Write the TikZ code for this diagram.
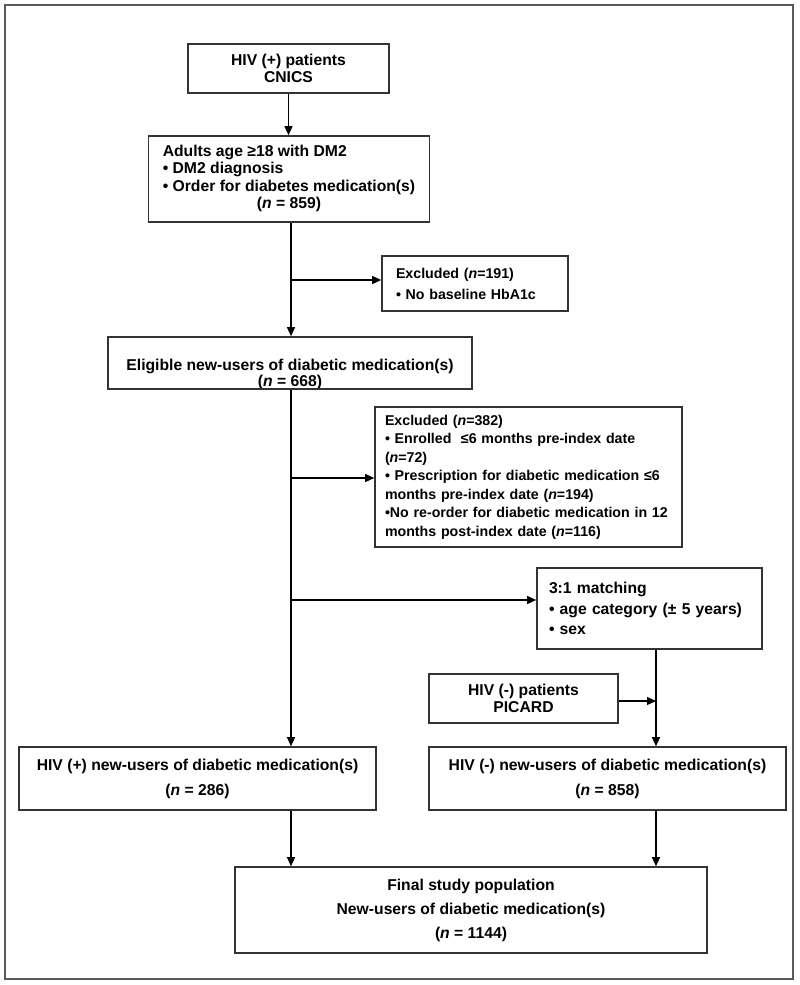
\documentclass[tikz,border=0pt]{standalone}
\usepackage{fontspec}
\setmainfont{Liberation Sans}
\usetikzlibrary{arrows.meta}
\definecolor{boxc}{HTML}{333333}
\definecolor{framec}{HTML}{5A5A5A}
\begin{document}
\begin{tikzpicture}[x=1pt,y=-1pt,
  box/.style={draw=boxc, line width=1.6pt, inner sep=0pt},
  fa/.style={font=\bfseries\fontsize{15.7}{#1}\selectfont},
  fb/.style={font=\bfseries\fontsize{14.2}{#1}\selectfont},
  arr/.style={draw=black, line width=1.2pt, -{Triangle[length=9pt,width=8pt]}}]
\useasboundingbox (0,0) rectangle (800,985);
\draw[framec, line width=1.5pt] (5,5) rectangle (793,979);

\node[box, fa=17, align=center, minimum width=201pt, minimum height=49pt] (b1) at (288.5,68.5) {HIV (+) patients\\CNICS};

\node[box, fa=17.6, minimum width=281pt, minimum height=86pt] (b2) at (289,179)
  {\begin{tabular}{@{}l@{}}Adults age ≥18 with DM2\\ • DM2 diagnosis\\ • Order for diabetes medication(s)\\ \multicolumn{1}{@{}c@{}}{(\textit{n} = 859)}\end{tabular}};

\node[box, fb=21, align=left, minimum width=186pt, minimum height=55pt, text width=158pt, inner xsep=14pt] (ex1) at (475,283.5)
  {Excluded (\textit{n}=191)\\• No baseline HbA1c};

\node[fa=16.5, align=center, inner sep=0pt] (b3t) at (290,374.5) {Eligible new-users of diabetic medication(s)\\(\textit{n} = 668)};
\node[box, minimum width=364pt, minimum height=52pt] (b3) at (290,363) {};

\node[box, fb=18.5, align=left, minimum width=307pt, minimum height=140pt, text width=287pt, inner xsep=10pt] (ex2) at (528.5,477)
  {Excluded (\textit{n}=382)\\• Enrolled~~≤6 months pre-index date\\(\textit{n}=72)\\• Prescription for diabetic medication ≤6\\months pre-index date (\textit{n}=194)\\•No re-order for diabetic medication in 12\\months post-index date (\textit{n}=116)};

\node[box, fa=20.5, align=left, minimum width=225pt, minimum height=81pt, text width=201pt, inner xsep=12pt] (match) at (649.5,608.5)
  {3:1 matching\\• age category (± 5 years)\\• sex};

\node[box, fa=17, align=center, minimum width=189pt, minimum height=49pt] (picard) at (523.5,698.5) {HIV (-) patients\\PICARD};

\node[box, fa=25, align=center, minimum width=357pt, minimum height=63pt] (hivp) at (197.5,778.5) {HIV (+) new-users of diabetic medication(s)\\(\textit{n} = 286)};
\node[box, fa=25, align=center, minimum width=357pt, minimum height=63pt] (hivm) at (607.5,778.5) {HIV (-) new-users of diabetic medication(s)\\(\textit{n} = 858)};

\node[box, fa=24, align=center, minimum width=472pt, minimum height=86pt] (final) at (471,910) {Final study population\\New-users of diabetic medication(s)\\(\textit{n} = 1144)};

\coordinate (spine) at (291,0);
\coordinate (mx) at (656,0);
\coordinate (j1) at (291,280);
\coordinate (j2) at (291,478);
\coordinate (j3) at (291,600);
\coordinate (j4) at (656,701);

\draw[arr] (b1.south) -- (b1.south |- b2.north);
\draw[arr] (b2.south -| spine) -- (b3.north -| spine);
\draw[arr] (j1) -- (j1 -| ex1.west);
\draw[arr] (b3.south -| spine) -- (hivp.north -| spine);
\draw[arr] (j2) -- (j2 -| ex2.west);
\draw[arr] (j3) -- (j3 -| match.west);
\draw[arr] (match.south -| mx) -- (hivm.north -| mx);
\draw[arr] (j4 -| picard.east) -- (j4);
\draw[arr] (hivp.south -| spine) -- (final.north -| spine);
\draw[arr] (hivm.south -| mx) -- (final.north -| mx);
\end{tikzpicture}
\end{document}
